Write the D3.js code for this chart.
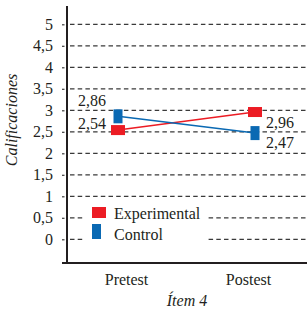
<!DOCTYPE html>
<html>
<head>
<meta charset="utf-8">
<script src="https://cdn.jsdelivr.net/npm/d3@7"></script>
<style>
    body { margin: 0; background: #fff; }
</style>
</head>
<body>
<div id="chart"></div>
<script>
// data
var categories = ["Pretest", "Postest"];
var seriesNames = ["Experimental", "Control"];
var experimental = [2.54, 2.96];
var control = [2.86, 2.47];
var yTicks = [0, 0.5, 1, 1.5, 2, 2.5, 3, 3.5, 4, 4.5, 5];

var colors = { Experimental: "#ec1c24", Control: "#0a69b3" };
var serif = '"Liberation Serif"';
var ink = "#231f20";

var width = 307, height = 310;
var axisX = 67, axisBottom = 263;

var svg = d3.select("#chart").append("svg")
    .attr("width", width)
    .attr("height", height);

// scales
var xScale = d3.scalePoint()
    .domain(categories)
    .range([118, 255]);

var yScale = d3.scaleLinear()
    .domain([0, 5])
    .range([239.3, 24.3]);

var fmt = function (v) { return String(v).replace(".", ","); };

// dashed gridlines
svg.append("g").selectAll("line")
    .data(yTicks)
    .enter()
    .append("line")
    .attr("x1", 70)
    .attr("x2", width)
    .attr("y1", d => yScale(d))
    .attr("y2", d => yScale(d))
    .attr("stroke", "#3a3a3a")
    .attr("stroke-width", 1.2)
    .attr("stroke-dasharray", "4.5,3.2");

// y axis (labels + small ticks)
var yAxis = d3.axisLeft(yScale)
    .tickValues(yTicks)
    .tickSize(5)
    .tickPadding(9)
    .tickFormat(fmt);

var yG = svg.append("g")
    .attr("transform", `translate(${axisX}, 0)`)
    .call(yAxis);
yG.select(".domain").remove();
yG.selectAll(".tick line")
    .attr("x2", -5).attr("x1", -2.5)
    .attr("stroke", "#3a3a3a").attr("stroke-width", 1.2);
yG.selectAll(".tick text")
    .style("font-family", serif)
    .style("font-size", "16px")
    .attr("fill", ink);

// axis lines
svg.append("line")
    .attr("x1", axisX).attr("x2", axisX)
    .attr("y1", 6).attr("y2", axisBottom + 1)
    .attr("stroke", ink).attr("stroke-width", 2);
svg.append("line")
    .attr("x1", 62).attr("x2", width)
    .attr("y1", axisBottom).attr("y2", axisBottom)
    .attr("stroke", ink).attr("stroke-width", 2);

// x axis labels
var xAxis = d3.axisBottom(xScale).tickSize(0).tickPadding(0);
var xG = svg.append("g")
    .attr("transform", `translate(0, ${axisBottom})`)
    .call(xAxis);
xG.select(".domain").remove();
xG.selectAll(".tick text")
    .style("font-family", serif)
    .style("font-size", "16px")
    .attr("fill", ink)
    .attr("dy", null)
    .attr("y", 22)
    .attr("dx", (d, i) => i === 0 ? 8 : -7);

// axis titles
svg.append("text")
    .attr("x", 187)
    .attr("y", 306)
    .attr("text-anchor", "middle")
    .attr("fill", ink)
    .style("font-family", serif)
    .style("font-size", "16px")
    .style("font-style", "italic")
    .text("Ítem 4");

svg.append("text")
    .attr("transform", "translate(17, 120) rotate(-90)")
    .attr("text-anchor", "middle")
    .attr("fill", ink)
    .style("font-family", serif)
    .style("font-size", "16px")
    .style("font-style", "italic")
    .text("Calificaciones");

// series (label offsets: pretest above-left, postest below-right)
var series = [
    { name: seriesNames[0], values: experimental, w: 14, h: 10, ly: [-7, 10] },
    { name: seriesNames[1], values: control, w: 9, h: 14, ly: [-16, 9] }
];

var line = d3.line()
    .x((d, i) => xScale(categories[i]))
    .y(d => yScale(d));

series.forEach(function (s) {
    svg.append("path")
        .datum(s.values)
        .attr("d", line)
        .attr("fill", "none")
        .attr("stroke", colors[s.name])
        .attr("stroke-width", 1.5);
});

series.forEach(function (s) {
    svg.append("g").selectAll("rect")
        .data(s.values)
        .enter()
        .append("rect")
        .attr("x", (d, i) => xScale(categories[i]) - s.w / 2)
        .attr("y", d => yScale(d) - s.h / 2)
        .attr("width", s.w)
        .attr("height", s.h)
        .attr("fill", colors[s.name]);

    svg.append("g").selectAll("text")
        .data(s.values)
        .enter()
        .append("text")
        .attr("x", (d, i) => i === 0 ? xScale(categories[i]) - 12 : xScale(categories[i]) + 11)
        .attr("y", (d, i) => yScale(d) + s.ly[i])
        .attr("dy", "0.35em")
        .attr("text-anchor", (d, i) => i === 0 ? "end" : "start")
        .attr("fill", ink)
        .style("font-family", serif)
        .style("font-size", "16px")
        .text(d => fmt(d));
});

// legend
var legend = svg.append("g");
legend.append("rect")
    .attr("x", 84).attr("y", 204)
    .attr("width", 124).attr("height", 39)
    .attr("fill", "#fff");

var legendRows = legend.selectAll("g.row")
    .data(series)
    .enter()
    .append("g")
    .attr("class", "row");

legendRows.append("rect")
    .attr("x", 92)
    .attr("y", (d, i) => i === 0 ? 207 : 224)
    .attr("width", d => d.w)
    .attr("height", (d, i) => i === 0 ? 11 : 15)
    .attr("fill", d => colors[d.name]);

legendRows.append("text")
    .attr("x", 114)
    .attr("y", (d, i) => i === 0 ? 218.5 : 240)
    .attr("fill", ink)
    .style("font-family", serif)
    .style("font-size", "16px")
    .text(d => d.name);
</script>
</body>
</html>
